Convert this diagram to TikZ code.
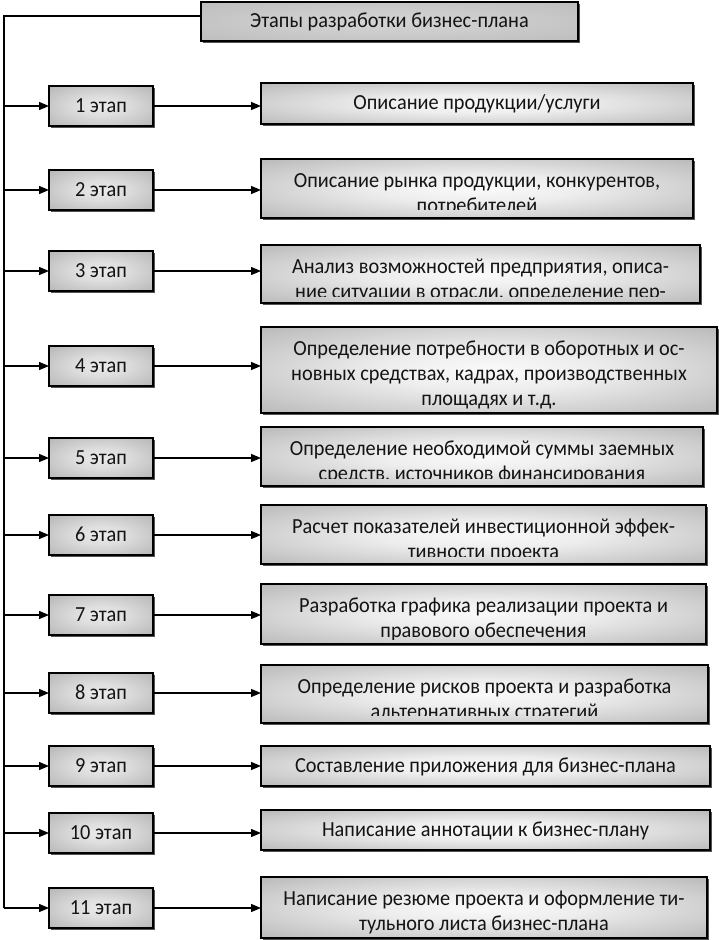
\documentclass[tikz,border=0pt]{standalone}
\usepackage{fontspec}
\setmainfont{Carlito}[FakeStretch=0.945]
\usetikzlibrary{arrows.meta,shadows}
\pgfdeclareradialshading{rshade}{\pgfpoint{0bp}{0bp}}{color(0bp)=(black!2); color(12bp)=(black!7); color(50bp)=(black!40); color(72bp)=(black!46)}
\pgfdeclareradialshading{sshade}{\pgfpoint{0bp}{0bp}}{color(0bp)=(black!8); color(12bp)=(black!13); color(50bp)=(black!38); color(72bp)=(black!44)}
\pgfdeclareradialshading{tshade}{\pgfpoint{0bp}{0bp}}{color(0bp)=(black!17); color(15bp)=(black!20); color(50bp)=(black!30); color(72bp)=(black!34)}
\tikzset{
  boxbase/.style={draw=black, line width=1.3pt, rectangle, inner sep=0pt, outer sep=0pt,
    drop shadow={shadow xshift=1.6pt, shadow yshift=-1.6pt, fill=black!75, opacity=0.9}},
  rb/.style={boxbase, shade, shading=rshade},
  sb/.style={boxbase, shade, shading=sshade, minimum width=104pt, minimum height=40pt},
  tb/.style={boxbase, shade, shading=tshade},
  txt/.style={font=\fontsize{21.5}{25}\selectfont, text=black!92, align=center, inner sep=0pt},
  conn/.style={line width=1.3pt},
  arr/.style={conn, -{Triangle[length=10pt,width=8pt]}},
}
\newcommand\rboxone[5]{%
  \node[rb, anchor=north west, minimum width={#2pt-261pt}, minimum height={#4pt-#3pt}] (#1) at (261,#3) {};
  \node[txt, anchor=base] (#1t) at ([yshift=-6pt]#1.center) {#5};}
\newcommand\rboxtwo[6]{%
  \node[rb, anchor=north west, minimum width={#2pt-261pt}, minimum height={#4pt-#3pt}] (#1) at (261,#3) {};
  \begin{scope}
    \clip ([xshift=1pt,yshift=-1pt]#1.north west) rectangle ([xshift=-1pt,yshift=#5pt]#1.south east);
    \node[txt, anchor=north] (#1t) at ([yshift=-10.5pt]#1.north) {#6};
  \end{scope}}
\newcommand\stagebox[2]{%
  \node[sb] (s#1) at (101,#2) {};
  \node[txt, anchor=base] (s#1t) at ([yshift=-6.5pt]s#1.center) {#1 этап};}
\begin{document}
\begin{tikzpicture}[x=1pt,y=-1pt]
\useasboundingbox (0,0) rectangle (719,940);
% title
\node[tb, anchor=north west, minimum width=377pt, minimum height=39pt] (title) at (201,2) {};
\node[txt, anchor=base] (titlet) at ([yshift=-6pt]title.center) {Этапы разработки бизнес-плана};
% stage boxes
\stagebox{1}{106}
\stagebox{2}{190}
\stagebox{3}{271}
\stagebox{4}{366}
\stagebox{5}{458}
\stagebox{6}{535}
\stagebox{7}{615}
\stagebox{8}{693}
\stagebox{9}{766}
\stagebox{10}{833}
\stagebox{11}{908}
% right boxes
\rboxone{r1}{693}{83}{124}{Описание продукции/услуги}
\rboxtwo{r2}{693}{159}{218}{9}{\strut Описание рынка продукции, конкурентов,\\\strut потребителей}
\rboxtwo{r3}{700}{245}{303}{7}{\strut Анализ возможностей предприятия, описа-\\\strut ние ситуации в отрасли, определение пер-}
\rboxtwo{r4}{717}{327}{413}{2}{\strut Определение потребности в оборотных и ос-\\\strut новных средствах, кадрах, производственных\\\strut площадях и т.д.}
\rboxtwo{r5}{703}{427}{486}{8}{\strut Определение необходимой суммы заемных\\\strut средств, источников финансирования}
\rboxtwo{r6}{706}{505}{564}{8}{\strut Расчет показателей инвестиционной эффек-\\\strut тивности проекта}
\rboxtwo{r7}{706}{584}{644}{5}{\strut Разработка графика реализации проекта и\\\strut правового обеспечения}
\rboxtwo{r8}{708}{665}{723}{8}{\strut Определение рисков проекта и разработка\\\strut альтернативных стратегий}
\rboxone{r9}{710}{746}{786}{Составление приложения для бизнес-плана}
\rboxone{r10}{710}{810}{850}{Написание аннотации к бизнес-плану}
\rboxtwo{r11}{707}{877}{938}{2}{\strut Написание резюме проекта и оформление ти-\\\strut тульного листа бизнес-плана}
% trunk
\coordinate (top) at (4,16);
\coordinate (bot) at (4,908);
\draw[conn] (title.west |- top) -- (top) -- (bot);
\foreach \i in {1,...,11}{
  \draw[arr] (top |- s\i.west) -- (s\i.west);
  \draw[arr] (s\i.east) -- (s\i.east -| r\i.west);
}
\end{tikzpicture}
\end{document}
